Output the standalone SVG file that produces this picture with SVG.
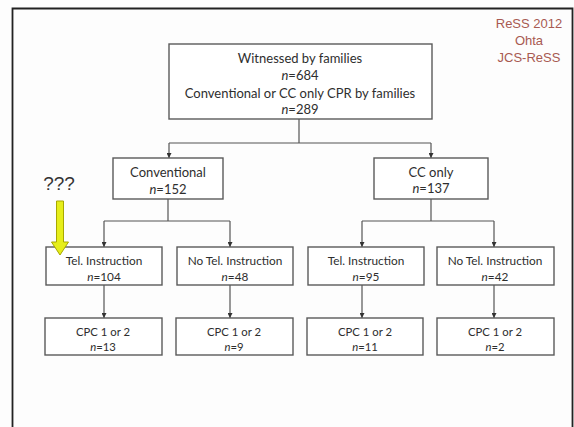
<svg xmlns="http://www.w3.org/2000/svg" width="574" height="427" viewBox="0 0 574 427">
  <defs>
    <marker id="tip" viewBox="0 0 8 8" refX="8" refY="4" markerWidth="5" markerHeight="5" orient="auto" markerUnits="userSpaceOnUse">
      <path d="M0,0 L8,4 L0,8 Z" fill="#333"/>
    </marker>
  </defs>
  <style>
    .box { fill: #fff; stroke: #5a5a5a; stroke-width: 1.4; }
    .lbl { font-family: Lato, "Liberation Sans", sans-serif; font-size: 13px; fill: #2e2e2e; text-anchor: middle; }
    .md { font-size: 11.8px; }
    .sm { font-size: 11.3px; }
    .it { font-style: italic; }
    .wire { fill: none; stroke: #555; stroke-width: 1.2; }
    .tag { font-family: "Liberation Sans", Arial, sans-serif; font-size: 13px; fill: #a85a52; text-anchor: middle; }
  </style>

  <rect x="0" y="0" width="574" height="427" fill="#fdfdfd"/>
  <!-- slide frame -->
  <path d="M12.5,440 L12.5,8.5 L572.5,8.5 L572.5,440" fill="none" stroke="#222" stroke-width="1.8"/>

  <g id="credit">
    <text class="tag" x="529" y="28">ReSS 2012</text>
    <text class="tag" x="529" y="45">Ohta</text>
    <text class="tag" x="529" y="62">JCS-ReSS</text>
  </g>

  <g id="connectors">
    <path class="wire" d="M299,119 V143 M169,143 H431"/>
    <path class="wire" d="M169,143 V158" marker-end="url(#tip)"/>
    <path class="wire" d="M431,143 V158" marker-end="url(#tip)"/>
    <path class="wire" d="M168,199 V221 M104,221 H230"/>
    <path class="wire" d="M104,221 V247" marker-end="url(#tip)"/>
    <path class="wire" d="M230,221 V247" marker-end="url(#tip)"/>
    <path class="wire" d="M431,199 V221 M362,221 H494"/>
    <path class="wire" d="M362,221 V247" marker-end="url(#tip)"/>
    <path class="wire" d="M494,221 V247" marker-end="url(#tip)"/>
    <path class="wire" d="M104,285 V318" marker-end="url(#tip)"/>
    <path class="wire" d="M230,285 V318" marker-end="url(#tip)"/>
    <path class="wire" d="M362,285 V318" marker-end="url(#tip)"/>
    <path class="wire" d="M494,285 V318" marker-end="url(#tip)"/>
  </g>

  <g id="witnessed">
    <rect class="box" x="169" y="44" width="263" height="75"/>
    <text class="lbl" x="300" y="63">Witnessed by families</text>
    <text class="lbl" x="300" y="80"><tspan class="it">n</tspan>=684</text>
    <text class="lbl" x="300" y="98">Conventional or CC only CPR by families</text>
    <text class="lbl" x="300" y="114"><tspan class="it">n</tspan>=289</text>
  </g>

  <g id="conventional">
    <rect class="box" x="113" y="158" width="110" height="41"/>
    <text class="lbl" x="168" y="177">Conventional</text>
    <text class="lbl" x="168" y="194"><tspan class="it">n</tspan>=152</text>
  </g>

  <g id="cc-only">
    <rect class="box" x="374" y="158" width="114" height="41"/>
    <text class="lbl" x="431" y="177">CC only</text>
    <text class="lbl" x="431" y="193"><tspan class="it">n</tspan>=137</text>
  </g>

  <g id="conv-tel">
    <rect class="box" x="46" y="247" width="116" height="38"/>
    <text class="lbl md" x="104" y="264.5">Tel. Instruction</text>
    <text class="lbl md" x="104" y="280.5"><tspan class="it">n</tspan>=104</text>
  </g>

  <g id="conv-no-tel">
    <rect class="box" x="177" y="247" width="116" height="38"/>
    <text class="lbl md" x="235" y="264.5">No Tel. Instruction</text>
    <text class="lbl md" x="235" y="280.5"><tspan class="it">n</tspan>=48</text>
  </g>

  <g id="cc-tel">
    <rect class="box" x="308" y="247" width="116" height="38"/>
    <text class="lbl md" x="366" y="264.5">Tel. Instruction</text>
    <text class="lbl md" x="366" y="280.5"><tspan class="it">n</tspan>=95</text>
  </g>

  <g id="cc-no-tel">
    <rect class="box" x="437" y="247" width="117" height="38"/>
    <text class="lbl md" x="495" y="264.5">No Tel. Instruction</text>
    <text class="lbl md" x="495" y="280.5"><tspan class="it">n</tspan>=42</text>
  </g>

  <g id="cpc-conv-tel">
    <rect class="box" x="45" y="318" width="117" height="37"/>
    <text class="lbl sm" x="103" y="336">CPC 1 or 2</text>
    <text class="lbl sm" x="103" y="350.5"><tspan class="it">n</tspan>=13</text>
  </g>

  <g id="cpc-conv-no-tel">
    <rect class="box" x="176" y="318" width="117" height="37"/>
    <text class="lbl sm" x="234" y="336">CPC 1 or 2</text>
    <text class="lbl sm" x="234" y="350.5"><tspan class="it">n</tspan>=9</text>
  </g>

  <g id="cpc-cc-tel">
    <rect class="box" x="307" y="318" width="116" height="37"/>
    <text class="lbl sm" x="365" y="336">CPC 1 or 2</text>
    <text class="lbl sm" x="365" y="350.5"><tspan class="it">n</tspan>=11</text>
  </g>

  <g id="cpc-cc-no-tel">
    <rect class="box" x="437" y="318" width="117" height="37"/>
    <text class="lbl sm" x="495" y="336">CPC 1 or 2</text>
    <text class="lbl sm" x="495" y="350.5"><tspan class="it">n</tspan>=2</text>
  </g>

  <!-- question marker pointing at the telephone-instruction box -->
  <g id="question">
    <text x="59" y="190" font-family="'Liberation Sans', Arial, sans-serif" font-size="19" fill="#333" text-anchor="middle">???</text>
    <path d="M56.5,201 H63.5 V242 H68.5 L60,255 L51.5,242 H56.5 Z" fill="#e6ee1a" stroke="#a8a800" stroke-width="1"/>
  </g>
</svg>
